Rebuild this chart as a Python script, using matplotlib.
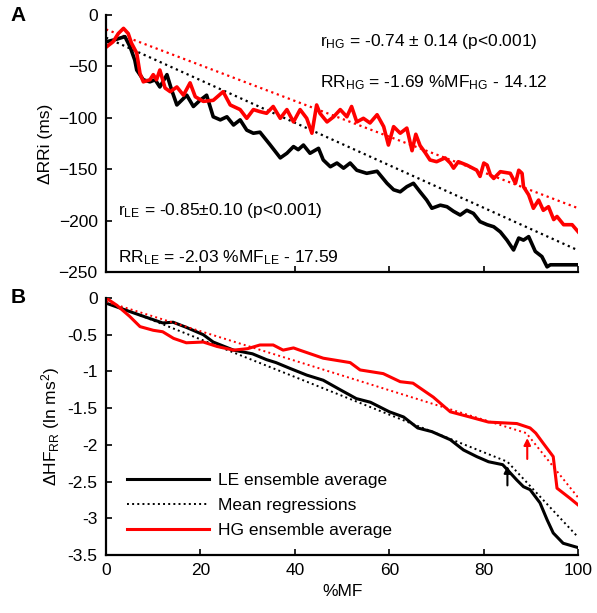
import matplotlib
matplotlib.use("Agg")
from matplotlib import pyplot as plt

plt.rcParams['font.family'] = ['Liberation Sans', 'DejaVu Sans']
plt.rcParams['mathtext.default'] = 'regular'
plt.rcParams['font.size'] = 12.5

# Panel A: delta RRi (ms) vs %MF
le_a_x = [0.1, 1.9, 4, 5.1, 6.1, 6.5, 7.9, 9.3, 10.4, 11.4, 12.9, 13.9, 15, 16, 17.1, 18.5,
          19.9, 21.3, 22.7, 24.2, 25.6, 27, 28.4, 29.8, 31.2, 32.6, 34.7, 36.9, 38.3, 39.7,
          40.7, 41.8, 43.2, 45, 46, 47.5, 48.9, 50.3, 51.7, 53.1, 55.2, 57.4, 59.5, 60.9,
          62.3, 63.7, 65.1, 66.5, 67.9, 69, 70.8, 72.2, 73.6, 75, 76.4, 77.8, 79.2, 80.7,
          82.1, 83.5, 84.9, 86.3, 87.4, 88.4, 89.5, 90.9, 92.3, 93.4, 94.1, 100]
le_a_y = [-26, -24, -21, -31, -44, -53.5, -63, -65, -63, -70, -58, -73, -87.5, -83, -78, -89,
          -83, -78, -99, -102, -99, -107, -102, -112, -115, -114, -126, -139, -134.5, -128,
          -131, -126.5, -134.5, -129.7, -141, -147.6, -144, -149, -144, -151, -154, -152,
          -163.7, -170, -172, -167, -163.7, -172, -180, -188, -185, -186.5, -191, -194.6,
          -190, -193, -201, -204, -206, -211, -219, -228.6, -217, -219, -215.6, -230, -235,
          -245, -243, -243]

hg_a_x = [0.1, 1.5, 2.6, 3.7, 4.7, 5.4, 6.5, 7.2, 7.9, 9.3, 10, 10.7, 11.4, 12.5, 13.6, 15,
          16.4, 17.8, 18.9, 20.6, 22.7, 24.8, 26.3, 28.4, 29.8, 31.2, 32.6, 34, 35.4, 36.9,
          38.3, 39.7, 41.1, 42.5, 43.6, 44.6, 45.3, 46.8, 48.2, 49.6, 51, 52, 53.1, 54.5,
          55.9, 57.4, 58.8, 59.8, 60.9, 62.3, 63.7, 64.8, 65.6, 66.5, 67.6, 68.6, 70, 71.8,
          72.9, 73.6, 74.6, 76.4, 78.5, 79.2, 80, 80.7, 81.4, 82.1, 83.5, 85.6, 86.7, 87.4,
          88.1, 88.4, 89.5, 90.5, 91.6, 92.6, 93.7, 94.8, 95.5, 96.9, 98.7, 100]
hg_a_y = [-31, -26, -18, -13, -18, -27.5, -37, -57, -65, -63, -58, -63, -53.5, -71, -74.6,
          -70, -78, -66, -79.5, -84, -83, -74.6, -87.5, -92, -100.5, -92, -94, -95.6, -89,
          -100.5, -92, -104, -92, -100.5, -115, -87.5, -95.6, -104, -99, -92, -99, -89, -104,
          -100.5, -105, -97, -108.6, -126.5, -108.6, -115, -110, -132, -116, -127, -134,
          -141, -142.7, -139, -144, -149, -142.7, -146, -151, -157, -144, -146, -155.6, -159,
          -152.4, -154, -163.7, -151, -154, -167, -175, -188, -180, -190, -186.5, -199, -196,
          -204, -204, -211]

reg_le_a_x = [0, 100]
reg_le_a_y = [-22, -229]
reg_hg_a_x = [0, 100]
reg_hg_a_y = [-14, -188]

# Panel B: delta HF_RR (ln ms^2) vs %MF
le_b_x = [0, 5.7, 9.3, 12, 14.2, 17, 20.6, 22.7, 27, 31, 34, 36, 39, 42.5, 46, 49.6, 53,
          56, 60, 63, 66, 69, 72.9, 75.7, 78.5, 81, 84, 87, 88.4, 89.8, 91.9, 93.4, 94.7,
          96.8, 100]
le_b_y = [-0.07, -0.2, -0.28, -0.34, -0.33, -0.4, -0.5, -0.6, -0.71, -0.76, -0.84, -0.88,
          -0.96, -1.05, -1.12, -1.25, -1.37, -1.42, -1.55, -1.62, -1.77, -1.82, -1.93,
          -2.07, -2.16, -2.23, -2.27, -2.48, -2.57, -2.61, -2.79, -3.02, -3.2, -3.34, -3.4]

hg_b_x = [0, 2.3, 5, 7.2, 10, 12, 14.3, 17, 20.6, 23.5, 27, 30, 32.6, 35.4, 37.5, 39.7,
          41, 46, 51.7, 53.8, 58.7, 62.3, 65, 69.3, 72.9, 77, 81, 87, 89.8, 91, 92.6,
          94.7, 95.5, 98.3, 100]
hg_b_y = [0, -0.1, -0.25, -0.39, -0.44, -0.46, -0.55, -0.61, -0.6, -0.66, -0.71, -0.69,
          -0.64, -0.64, -0.71, -0.68, -0.71, -0.82, -0.88, -0.98, -1.03, -1.14, -1.16,
          -1.35, -1.55, -1.62, -1.69, -1.71, -1.77, -1.84, -1.98, -2.16, -2.59, -2.73, -2.82]

reg_le_b_x = [0, 85, 100]
reg_le_b_y = [-0.05, -2.23, -3.26]
reg_hg_b_x = [0, 89, 100]
reg_hg_b_y = [-0.05, -1.84, -2.72]

# breakpoint arrows (x, tail y, head y)
arrow_le = (85, -2.59, -2.25)
arrow_hg = (89.2, -2.23, -1.87)

xticks = [0, 20, 40, 60, 80, 100]

fig = plt.figure(figsize=(5.97, 6.13), dpi=100)
axA = fig.add_axes([0.1776, 0.5563, 0.791, 0.4192])
axB = fig.add_axes([0.1776, 0.0946, 0.791, 0.4193])

for ax in (axA, axB):
    for s in ('top', 'right'):
        ax.spines[s].set_visible(False)
    for s in ('left', 'bottom'):
        ax.spines[s].set_linewidth(1.6)
    ax.tick_params(direction='in', length=4, width=1.2, pad=6)
    ax.set_xlim(0, 100)
    ax.set_xticks(xticks)

# --- A
axA.plot(reg_le_a_x, reg_le_a_y, ':', color='black', lw=1.6)
axA.plot(reg_hg_a_x, reg_hg_a_y, ':', color='red', lw=1.6)
axA.plot(le_a_x, le_a_y, '-', color='black', lw=2.6)
axA.plot(hg_a_x, hg_a_y, '-', color='red', lw=2.6)
axA.set_ylim(-250, 0)
axA.set_yticks([0, -50, -100, -150, -200, -250])
axA.set_xticklabels([])
axA.set_ylabel("ΔRRi (ms)", labelpad=4)
axA.text(45.3, -26, "r$_{HG}$ = -0.74 ± 0.14 (p<0.001)", va='center')
axA.text(45.3, -66, "RR$_{HG}$ = -1.69 %MF$_{HG}$ - 14.12", va='center')
axA.text(2.5, -190, "r$_{LE}$ = -0.85±0.10 (p<0.001)", va='center')
axA.text(2.5, -236, "RR$_{LE}$ = -2.03 %MF$_{LE}$ - 17.59", va='center')

# --- B
axB.plot(le_b_x, le_b_y, '-', color='black', lw=2.2, label="LE ensemble average")
axB.plot(reg_le_b_x, reg_le_b_y, ':', color='black', lw=1.4, label="Mean regressions")
axB.plot(reg_hg_b_x, reg_hg_b_y, ':', color='red', lw=1.4)
axB.plot(hg_b_x, hg_b_y, '-', color='red', lw=2.2, label="HG ensemble average")
for (ax_x, y0, y1), c in ((arrow_le, 'black'), (arrow_hg, 'red')):
    axB.annotate("", xy=(ax_x, y1), xytext=(ax_x, y0),
                 arrowprops=dict(arrowstyle='-|>', color=c, lw=1.5, mutation_scale=10))
axB.set_ylim(-3.5, 0)
axB.set_yticks([0, -0.5, -1, -1.5, -2, -2.5, -3, -3.5])
axB.set_yticklabels(['0', '-0.5', '-1', '-1.5', '-2', '-2.5', '-3', '-3.5'])
axB.set_xlabel("%MF", labelpad=4)
axB.set_ylabel("ΔHF$_{RR}$ (ln ms$^2$)", labelpad=4)
axB.legend(loc='lower left', bbox_to_anchor=(0.045, 0.067), frameon=False,
           handlelength=4.7, handletextpad=0.5, labelspacing=0.55, borderpad=0,
           borderaxespad=0)

fig.text(0.017, 0.975, "A", fontsize=15, fontweight='bold', va='center')
fig.text(0.017, 0.514, "B", fontsize=15, fontweight='bold', va='center')

fig.savefig("out.png", dpi=100)
